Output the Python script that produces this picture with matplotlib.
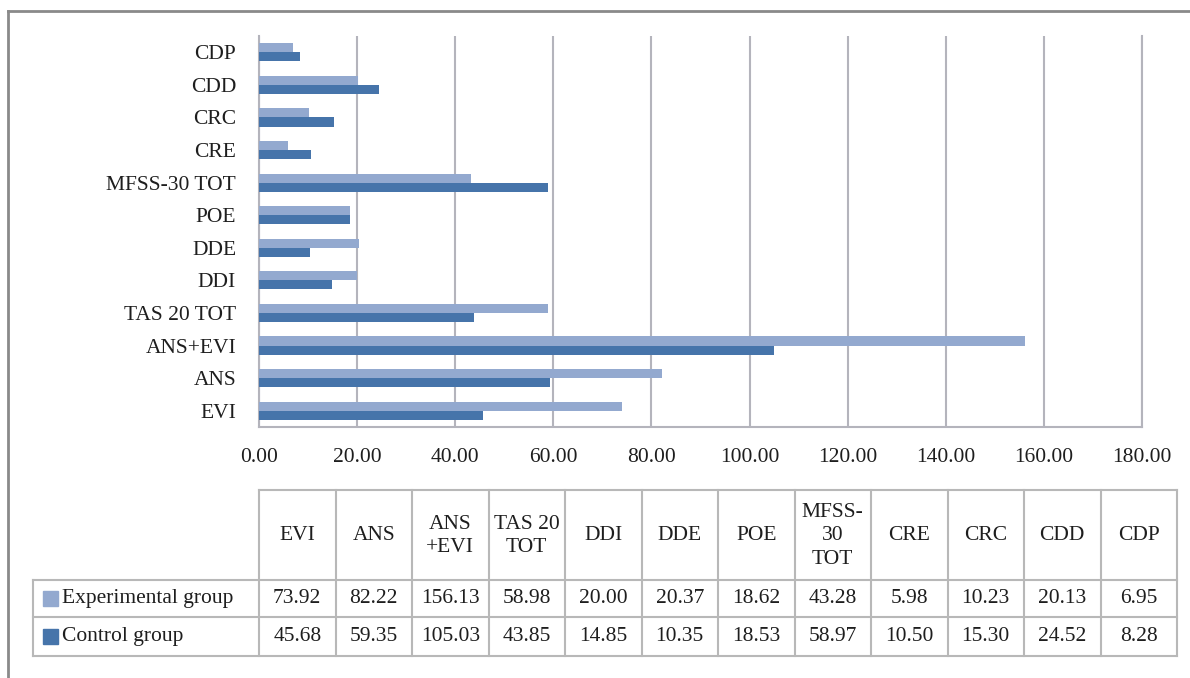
import matplotlib
matplotlib.use('Agg')
import matplotlib.pyplot as plt
import numpy as np

categories = ['EVI', 'ANS', 'ANS+EVI', 'TAS 20 TOT', 'DDI', 'DDE', 'POE',
              'MFSS-30 TOT', 'CRE', 'CRC', 'CDD', 'CDP']
header_labels = ['EVI', 'ANS', 'ANS\n+EVI', 'TAS 20\nTOT', 'DDI', 'DDE', 'POE',
                 'MFSS-\n30\nTOT', 'CRE', 'CRC', 'CDD', 'CDP']
experimental = [73.92, 82.22, 156.13, 58.98, 20.00, 20.37, 18.62, 43.28, 5.98, 10.23, 20.13, 6.95]
control = [45.68, 59.35, 105.03, 43.85, 14.85, 10.35, 18.53, 58.97, 10.50, 15.30, 24.52, 8.28]
series_names = ['Experimental group', 'Control group']
x_ticks = [0, 20, 40, 60, 80, 100, 120, 140, 160, 180]

c_exp = '#93a9cf'
c_ctl = '#4674aa'
grid_c = '#b4b4bc'
txt_c = '#1e1e1e'

plt.rcParams['font.family'] = ['Liberation Serif', 'DejaVu Serif']
plt.rcParams['font.size'] = 15.5

W, H = 1190, 678
fig = plt.figure(figsize=(W / 100, H / 100), dpi=100)

# Grafico de barras
ax = fig.add_axes([259 / W, 1 - 427 / H, (1142 - 259) / W, (427 - 36) / H])
y = np.arange(len(categories))
h = 0.28
ax.barh(y + h / 2, experimental, height=h, color=c_exp, zorder=3)
ax.barh(y - h / 2, control, height=h, color=c_ctl, zorder=3)
ax.set_xlim(0, 180)
ax.set_ylim(-0.5, len(categories) - 0.5)
ax.set_xticks(x_ticks)
ax.set_xticklabels([f'{v:.2f}' for v in x_ticks], color=txt_c)
ax.set_yticks(y)
ax.set_yticklabels(categories, color=txt_c)
ax.tick_params(axis='x', length=0, pad=15)
ax.tick_params(axis='y', length=0, pad=16.5)
ax.grid(axis='x', color=grid_c, linewidth=1.5, zorder=0)
for s in ['left', 'bottom', 'right']:
    ax.spines[s].set_color(grid_c)
    ax.spines[s].set_linewidth(1.5)
ax.spines['top'].set_visible(False)

# Tabla de datos
tab = fig.add_axes([0, 0, 1, 1])
tab.set_xlim(0, W)
tab.set_ylim(H, 0)
tab.axis('off')
tab.patch.set_alpha(0)

x0, cw = 259, 76.5
lab_x0 = 33
y_top, y_h, y_r1, y_r2 = 490, 580, 617, 656
n = len(categories)
x_end = x0 + n * cw
lc = '#b8b8b8'
lw = 1.5

# lineas horizontales
tab.plot([x0, x_end], [y_top, y_top], color=lc, lw=lw)
for yy in [y_h, y_r1, y_r2]:
    tab.plot([lab_x0, x_end], [yy, yy], color=lc, lw=lw)
# lineas verticales
tab.plot([lab_x0, lab_x0], [y_h, y_r2], color=lc, lw=lw)
for i in range(n + 1):
    xx = x0 + i * cw
    tab.plot([xx, xx], [y_top, y_r2], color=lc, lw=lw)

for i in range(n):
    xc = x0 + (i + 0.5) * cw
    tab.text(xc, (y_top + y_h) / 2 + 1, header_labels[i], ha='center', va='center',
             color=txt_c, linespacing=1.35)
    tab.text(xc, (y_h + y_r1) / 2, f'{experimental[i]:.2f}', ha='center', va='center',
             color=txt_c)
    tab.text(xc, (y_r1 + y_r2) / 2, f'{control[i]:.2f}', ha='center', va='center',
             color=txt_c)

for (yc, name, col) in [((y_h + y_r1) / 2, series_names[0], c_exp),
                        ((y_r1 + y_r2) / 2, series_names[1], c_ctl)]:
    tab.add_patch(plt.Rectangle((43, yc - 7.5), 15, 15, color=col))
    tab.text(62, yc, name, ha='left', va='center', color=txt_c)

# marco exterior
tab.plot([8, W], [11, 11], color='#8a8a8a', lw=2)
tab.plot([8, 8], [11, H], color='#8a8a8a', lw=2)

fig.savefig('out.png', dpi=100)
